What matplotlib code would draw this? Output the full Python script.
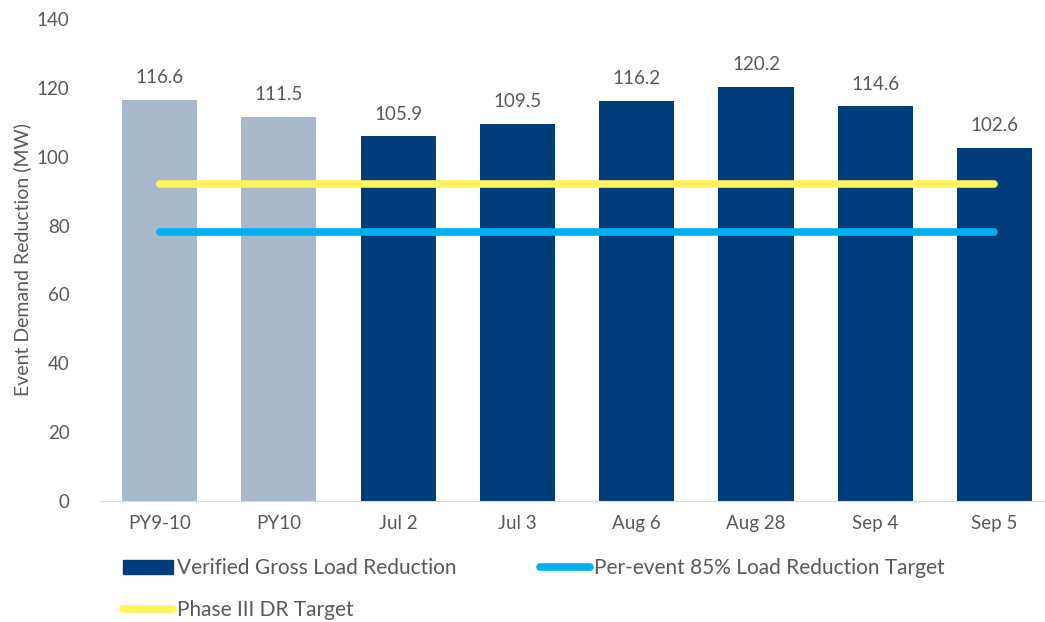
import numpy as np
import matplotlib
matplotlib.use("Agg")
import matplotlib.pyplot as plt
from matplotlib.patches import Patch
from matplotlib.lines import Line2D

# data
categories = ["PY9-10", "PY10", "Jul 2", "Jul 3", "Aug 6", "Aug 28", "Sep 4", "Sep 5"]
reduction = [116.6, 111.5, 105.9, 109.5, 116.2, 120.2, 114.6, 102.6]
is_program_year = [True, True, False, False, False, False, False, False]
per_event_target = 78.0
phase3_target = 92.0

dark_blue = "#003D7A"
grey_blue = "#A9B8CB"
cyan = "#00B0F0"
yellow = "#FFF35C"
text_col = "#595959"

plt.rcParams["font.family"] = ["Lato", "DejaVu Sans"]

fig = plt.figure(figsize=(10.45, 6.22), dpi=100)
ax = fig.add_axes([0.0957, 0.1945, 0.913, 0.775])

x = np.arange(len(categories))
colors = [grey_blue if p else dark_blue for p in is_program_year]
bars = ax.bar(x, reduction, width=0.63, color=colors, zorder=2)

for xi, v in zip(x, reduction):
    ax.text(xi, v + 4, f"{v:.1f}", ha="center", va="bottom", fontsize=13.5, color=text_col)

ax.plot([x[0], x[-1]], [phase3_target] * 2, color=yellow, linewidth=5.5,
        solid_capstyle="round", zorder=3)
ax.plot([x[0], x[-1]], [per_event_target] * 2, color=cyan, linewidth=5.5,
        solid_capstyle="round", zorder=3)

ax.set_xlim(-0.5, len(categories) - 0.5)
ax.set_ylim(0, 140)
ax.set_yticks(range(0, 141, 20))
ax.set_xticks(x)
ax.set_xticklabels(categories)
ax.tick_params(axis="both", length=0, labelsize=13.5, labelcolor=text_col)
ax.tick_params(axis="x", pad=10)
ax.tick_params(axis="y", pad=22)
ax.set_ylabel("Event Demand Reduction (MW)", fontsize=14, color=text_col, labelpad=4)

for s in ["top", "right", "left"]:
    ax.spines[s].set_visible(False)
ax.spines["bottom"].set_color("#D9D9D9")

handles = [
    Patch(facecolor=dark_blue, edgecolor=dark_blue),
    Line2D([], [], color=yellow, linewidth=5.5, solid_capstyle="round"),
    Line2D([], [], color=cyan, linewidth=5.5, solid_capstyle="round"),
]
labels = ["Verified Gross Load Reduction", "Phase III DR Target",
          "Per-event 85% Load Reduction Target"]
fig.legend(handles, labels, ncol=2, loc="upper left", bbox_to_anchor=(0.108, 0.119),
           frameon=False, fontsize=15, labelcolor=text_col, handlelength=2.4,
           handletextpad=0.2, columnspacing=4.0, labelspacing=1.05, borderpad=0)

fig.savefig("out.png", dpi=100)
